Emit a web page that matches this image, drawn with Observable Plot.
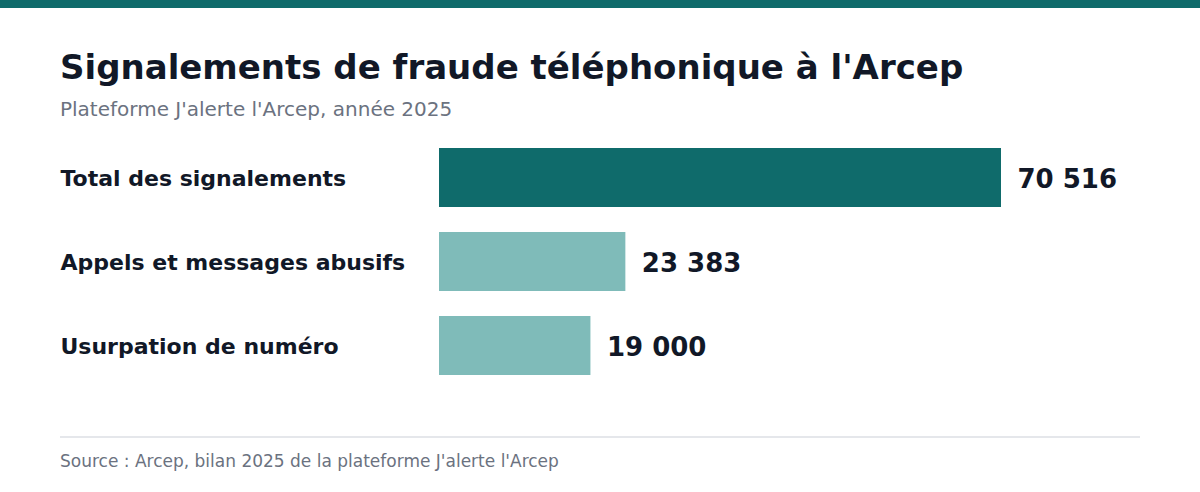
<!DOCTYPE html>
<html><head><meta charset="utf-8">
<script src="https://cdn.jsdelivr.net/npm/d3@7"></script>
<script src="https://cdn.jsdelivr.net/npm/@observablehq/plot@0.6"></script>
<style>
html,body{margin:0;padding:0;background:#fff;}
body{width:1200px;height:492px;position:relative;overflow:hidden;font-family:"DejaVu Sans",sans-serif;}
#strip{position:absolute;left:0;top:0;width:1200px;height:8px;background:#0f6b6b;}
#title{position:absolute;left:60px;top:50px;font-size:34px;line-height:1;font-weight:bold;color:#111827;white-space:nowrap;}
#subtitle{position:absolute;left:60px;top:99px;font-size:20px;line-height:1;color:#6b7280;white-space:nowrap;}
#chart{position:absolute;left:0;top:140px;}
#rule{position:absolute;left:60px;top:436px;width:1080px;height:2px;background:#e5e7eb;}
#source{position:absolute;left:60px;top:453px;font-size:17px;line-height:1;color:#6b7280;white-space:nowrap;}
</style></head>
<body>
<div id="strip"></div>
<div id="title">Signalements de fraude téléphonique à l'Arcep</div>
<div id="subtitle">Plateforme J'alerte l'Arcep, année 2025</div>
<div id="chart"></div>
<div id="rule"></div>
<div id="source">Source : Arcep, bilan 2025 de la plateforme J'alerte l'Arcep</div>
<script>
const categories = ["Total des signalements", "Appels et messages abusifs", "Usurpation de numéro"];
const values = [70516, 23383, 19000];
const kinds = ["total", "detail", "detail"];

const data = categories.map((c, i) => ({category: c, value: values[i], kind: kinds[i]}));
const fmt = v => d3.format(",")(v).replace(/,/g, " ");

const chart = Plot.plot({
  width: 1200,
  height: 250,
  marginLeft: 439,
  marginRight: 199,
  marginTop: 8,
  marginBottom: 15.2,
  style: {fontFamily: "DejaVu Sans, sans-serif", background: "transparent"},
  x: {domain: [0, 70516], axis: null},
  y: {domain: categories, paddingInner: 0.3, paddingOuter: 0, axis: null},
  color: {domain: ["total", "detail"], range: ["#0f6b6b", "#7fbbb9"]},
  marks: [
    Plot.barX(data, {x: "value", y: "category", fill: "kind"}),
    Plot.text(data, {x: "value", y: "category", text: d => fmt(d.value), textAnchor: "start", dx: 16, dy: 2, fontSize: 26, fontWeight: "bold", fill: "#111827"}),
    Plot.text(data, {y: "category", text: "category", frameAnchor: "left", textAnchor: "start", dx: -379, dy: 1, fontSize: 22, fontWeight: "bold", fill: "#111827"})
  ]
});
document.getElementById("chart").appendChild(chart);
</script>
</body></html>
